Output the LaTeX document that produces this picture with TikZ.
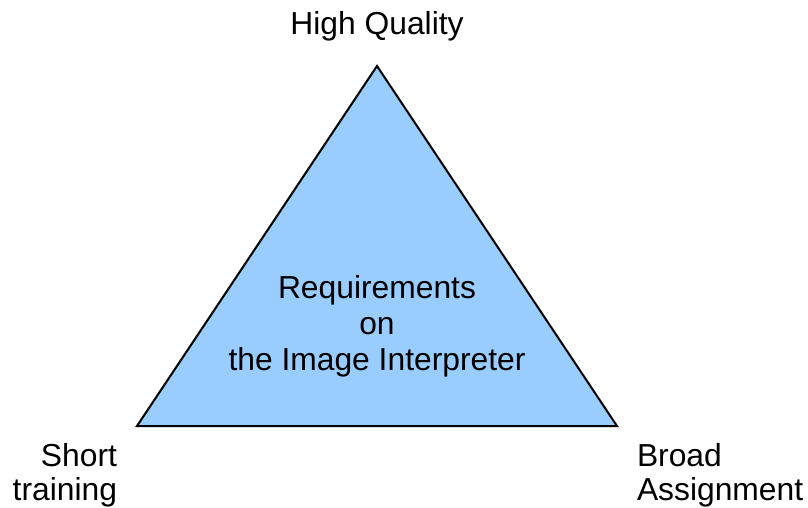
\documentclass[tikz,border=0pt]{standalone}
\usepackage{fontspec}
\setmainfont{Liberation Sans}
\definecolor{triblue}{HTML}{99CCFF}
\begin{document}
\begin{tikzpicture}[x=0.5pt,y=-0.5pt,
  lbl/.style={inner sep=0pt,outer sep=0pt,font=\fontsize{15.9pt}{18pt}\selectfont},
  tri/.style={draw=black,line width=1pt,fill=triblue,line join=miter}]
\useasboundingbox (0,0) rectangle (808,508);
\coordinate (top) at (377,66);
\coordinate (bl) at (137,426);
\coordinate (br) at (617,426);
\draw[tri] (top) -- (br) -- (bl) -- cycle;
\node[lbl,anchor=base] (hq) at (377,35) {High Quality};
\node[lbl,anchor=base,align=center] (req) at (377,370) {Requirements\\on\\the Image Interpreter};
\node[lbl,anchor=base east,align=right,font=\fontsize{15.9pt}{17pt}\selectfont] (st) at (117,500) {Short\\training};
\node[lbl,anchor=base west,align=left,font=\fontsize{15.9pt}{17pt}\selectfont] (ba) at (637,500) {Broad\\Assignment};
\end{tikzpicture}
\end{document}
